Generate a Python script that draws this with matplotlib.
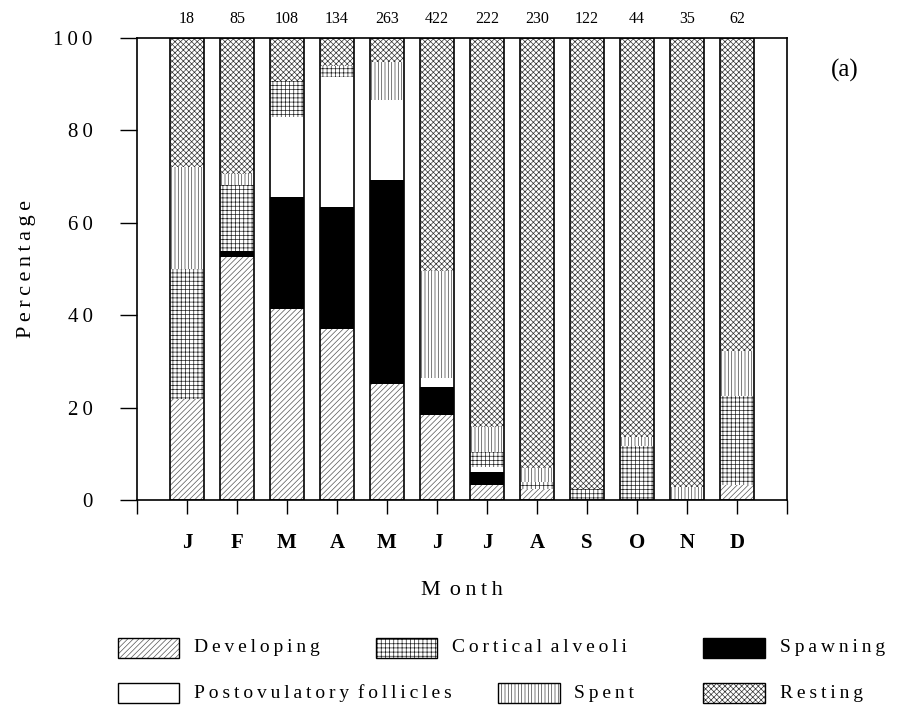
import matplotlib
matplotlib.use("Agg")
import matplotlib.pyplot as plt
from matplotlib.patches import Rectangle
import numpy as np

plt.rcParams['font.family'] = ['Liberation Serif', 'DejaVu Serif']
plt.rcParams['hatch.linewidth'] = 0.5

months = ['J', 'F', 'M', 'A', 'M', 'J', 'J', 'A', 'S', 'O', 'N', 'D']
counts = [18, 85, 108, 134, 263, 422, 222, 230, 122, 44, 35, 62]

# percentages per stage (stacked bottom -> top: developing, spawning, postovulatory, cortical, spent, resting)
developing    = [21.8, 52.7, 41.3, 37.0, 25.1, 18.4, 3.2, 2.4, 0.0, 0.0, 0.0, 3.2]
spawning      = [0.0, 1.3, 24.4, 26.5, 44.1, 6.1, 2.8, 0.0, 0.0, 0.0, 0.0, 0.0]
postovulatory = [0.0, 0.0, 17.3, 28.1, 17.4, 1.9, 1.2, 0.0, 0.0, 0.0, 0.0, 0.0]
cortical      = [28.2, 14.2, 7.6, 2.4, 0.0, 0.0, 3.3, 1.4, 2.3, 11.6, 0.0, 19.4]
spent         = [22.0, 2.4, 0.0, 0.0, 8.3, 23.1, 5.4, 3.1, 0.0, 2.0, 2.9, 9.7]
resting       = [28.0, 29.4, 9.4, 6.0, 5.1, 50.5, 84.1, 93.1, 97.7, 86.4, 97.1, 67.7]

stages = [
    ('Developing', developing, dict(facecolor='white', hatch='//////', edgecolor='#555555')),
    ('Spawning', spawning, dict(facecolor='black', edgecolor='black')),
    ('Postovulatory follicles', postovulatory, dict(facecolor='white', edgecolor='black')),
    ('Cortical alveoli', cortical, dict(facecolor='white', hatch='++++', edgecolor='#222222')),
    ('Spent', spent, dict(facecolor='white', hatch='|||||', edgecolor='#444444')),
    ('Resting', resting, dict(facecolor='white', hatch='xxxxxx', edgecolor='#333333')),
]

TS = '\u2009'


def spaced(s):
    return (' ' + TS).join(TS.join(w) for w in s.split(' '))


fig = plt.figure(figsize=(9.04, 7.18), dpi=100)
ax = fig.add_axes([0.1515, 0.3036, 0.7191, 0.6434])

x = np.arange(1, len(months) + 1)
bottom = np.zeros(len(months))
for name, vals, style in stages:
    v = np.array(vals)
    ax.bar(x, v, width=0.68, bottom=bottom, linewidth=0, **style)
    bottom += v
# bar outlines
ax.bar(x, bottom, width=0.68, facecolor='none', edgecolor='black', linewidth=1.2)

ax.set_xlim(0, 13)
ax.set_ylim(0, 100)
ax.set_xticks(np.arange(0, 14))
ax.set_xticklabels([''] + months + [''], fontsize=15, fontweight='bold')
ax.set_yticks(np.arange(0, 101, 20))
ax.set_yticklabels([TS.join(str(v)) for v in range(0, 101, 20)])
ax.tick_params(axis='x', direction='out', length=10, width=1, pad=14)
ax.tick_params(axis='y', direction='out', length=12, width=1, pad=20, labelsize=15)
for s in ax.spines.values():
    s.set_linewidth(1.2)

ax.set_ylabel(spaced('Percentage'), fontsize=16, labelpad=12)
ax.set_xlabel('M' + TS + TS + TS.join('onth'), fontsize=16, labelpad=20)

for xi, c in zip(x, counts):
    ax.text(xi, 102.5, str(c), ha='center', va='bottom', fontsize=11.5)

fig.text(0.935, 0.9025, '(a)', fontsize=18, ha='center', va='center')

# legend (manual layout)
legend_items = [
    ('Developing', 0.1305, 0.0975),
    ('Cortical alveoli', 0.4155, 0.0975),
    ('Spawning', 0.778, 0.0975),
    ('Postovulatory follicles', 0.1305, 0.0348),
    ('Spent', 0.551, 0.0348),
    ('Resting', 0.778, 0.0348),
]
style_map = {name: style for name, _, style in stages}
pw, ph = 0.068, 0.027
for name, lx, ly in legend_items:
    st = style_map[name]
    fig.patches.append(Rectangle((lx, ly - ph / 2), pw, ph, transform=fig.transFigure,
                                 linewidth=0, **st))
    fig.patches.append(Rectangle((lx, ly - ph / 2), pw, ph, transform=fig.transFigure,
                                 facecolor='none', edgecolor='black', linewidth=1.0))
    fig.text(lx + pw + 0.0165, ly, spaced(name), fontsize=14,
             ha='left', va='center')

fig.savefig('out.png', dpi=100)
